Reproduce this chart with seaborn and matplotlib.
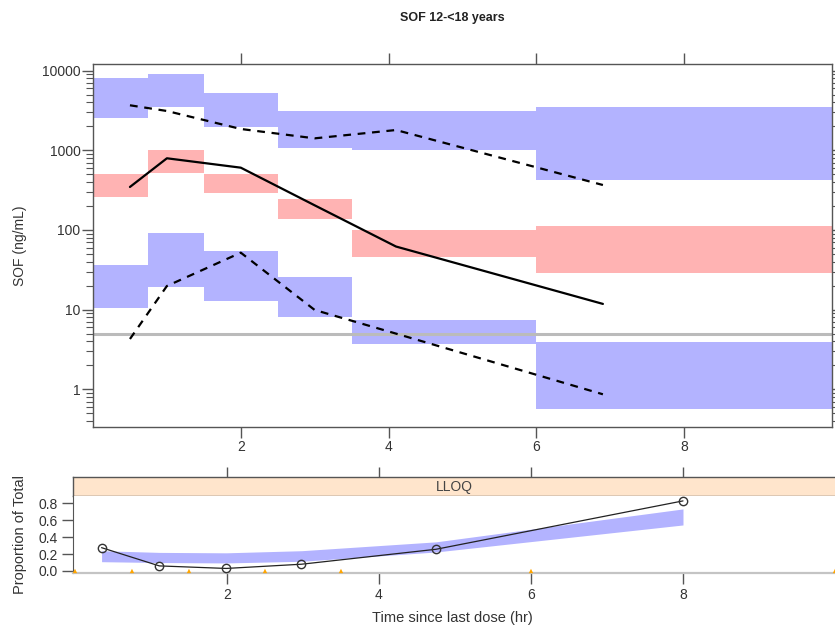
import numpy as np
import pandas as pd
import matplotlib
matplotlib.use("Agg")
import matplotlib.pyplot as plt
import seaborn as sns
from matplotlib.ticker import LogLocator, NullFormatter, FixedLocator, FixedFormatter

# ---------------- data ----------------
bin_edges = [0, 0.75, 1.5, 2.5, 3.5, 6, 10]

# simulated prediction intervals per time bin (ng/mL)
upper_hi = [8030, 9010, 5200, 3150, 3150, 3470]
upper_lo = [2570, 3530, 1945, 1080, 1010, 425]
mid_hi = [500, 1010, 500, 245, 100, 113]
mid_lo = [262, 524, 294, 136, 45.4, 29.1]
lower_hi = [36.3, 90.8, 55, 25.5, 7.41, 3.96]
lower_lo = [10.5, 19.4, 12.9, 8.0, 3.67, 0.567]

# observed percentiles
obs_time = [0.5, 1.0, 2.0, 3.0, 4.1, 6.9]
obs_median = [347, 795, 606, 204, 62, 11.8]
obs_p95 = [3680, 3120, 1855, 1415, 1800, 367]
obs_p05 = [4.28, 19.8, 51.9, 9.9, 5.0, 0.865]
lloq_value = 5

# proportion below LLOQ
blq_time = [0.35, 1.11, 1.99, 2.98, 4.75, 8.0]
blq_obs = [0.276, 0.06, 0.03, 0.08, 0.257, 0.83]
blq_lo = [0.11, 0.10, 0.095, 0.115, 0.225, 0.545]
blq_hi = [0.24, 0.22, 0.215, 0.24, 0.345, 0.735]

x_ticks = [2, 4, 6, 8]
y_ticks_top = [1, 10, 100, 1000, 10000]
y_tick_labels_top = ["1", "10", "100", "1000", "10000"]
y_ticks_bot = [0.0, 0.2, 0.4, 0.6, 0.8]
y_tick_labels_bot = ["0.0", "0.2", "0.4", "0.6", "0.8"]

title = "SOF 12-<18 years"
ylabel_top = "SOF (ng/mL)"
ylabel_bot = "Proportion of Total"
xlabel = "Time since last dose (hr)"
strip_label = "LLOQ"

# ---------------- style ----------------
sns.set_style("ticks")
plt.rcParams["font.family"] = ["Liberation Sans", "DejaVu Sans"]
BLUE = "#B3B3FF"
RED = "#FFB3B3"
PEACH = "#FFE5CC"
SPINE = "#555555"
TXT = "#333333"
TICKFS = 10

W, H = 835, 627
fig = plt.figure(figsize=(W / 100, H / 100), dpi=100)

def frac(l, t, r, b):
    return [l / W, 1 - b / H, (r - l) / W, (b - t) / H]

# ---------------- top panel ----------------
ax = fig.add_axes(frac(93, 64, 832, 427))
ax.set_yscale("log")

def step_vals(v):
    return list(v) + [v[-1]]

for lo, hi, col in [(upper_lo, upper_hi, BLUE), (mid_lo, mid_hi, RED), (lower_lo, lower_hi, BLUE)]:
    ax.fill_between(bin_edges, step_vals(lo), step_vals(hi), step="post",
                    color=col, linewidth=0, zorder=1)

ax.axhline(lloq_value, color="#BBBBBB", lw=2.2, zorder=2)

obs_df = pd.DataFrame({
    "time": obs_time * 3,
    "conc": obs_median + obs_p95 + obs_p05,
    "stat": ["median"] * 6 + ["p95"] * 6 + ["p05"] * 6,
})
sns.lineplot(data=obs_df, x="time", y="conc", style="stat", units="stat",
             estimator=None, color="black", linewidth=1.6,
             dashes={"median": "", "p95": (3.5, 3), "p05": (3.5, 3)},
             legend=False, ax=ax, zorder=3)

ax.set_xlim(0, 10)
ax.set_ylim(0.336, 12140)
ax.set_xlabel("")
ax.set_ylabel(ylabel_top, fontsize=10, color=TXT)
ax.yaxis.set_major_locator(FixedLocator(y_ticks_top))
ax.yaxis.set_major_formatter(FixedFormatter(y_tick_labels_top))
ax.yaxis.set_minor_locator(LogLocator(base=10, subs=np.arange(2, 10)))
ax.yaxis.set_minor_formatter(NullFormatter())
ax.set_xticks(x_ticks)
ax.set_xticklabels([str(t) for t in x_ticks])
ax.tick_params(axis="both", which="major", direction="out", length=8, width=1,
               color=SPINE, labelsize=TICKFS, labelcolor=TXT, pad=1,
               top=True, right=True, labeltop=False, labelright=False)
ax.tick_params(axis="y", which="minor", direction="out", length=5, width=0.8,
               color=SPINE, right=True)
ax.tick_params(axis="x", which="major", pad=1.5)
for s in ax.spines.values():
    s.set_color(SPINE)
    s.set_linewidth(1)
fig.text(452 / W, 1 - 18 / H, title, ha="center", va="center",
         fontsize=9, fontweight="bold", color="#222222")

# ---------------- bottom strip ----------------
sax = fig.add_axes(frac(73, 477, 835, 496))
sax.set_facecolor(PEACH)
sax.set_xlim(-0.026, 10)
sax.set_ylim(0, 1)
sax.set_xticks(x_ticks)
sax.set_xticklabels([])
sax.set_yticks([])
sax.tick_params(axis="x", which="major", direction="out", length=7, width=1,
                color=SPINE, top=True, bottom=False, labeltop=False, labelbottom=False)
for k, s in sax.spines.items():
    s.set_color(SPINE)
    s.set_linewidth(1)
sax.spines["right"].set_visible(False)
sax.text(0.5, 0.45, strip_label, transform=sax.transAxes, ha="center", va="center",
         fontsize=10, color="#444444")

# ---------------- bottom panel ----------------
bx = fig.add_axes(frac(73, 496, 835, 573))
bx.fill_between(blq_time, blq_lo, blq_hi, color=BLUE, linewidth=0, zorder=1)
blq_df = pd.DataFrame({"time": blq_time, "prop": blq_obs})
sns.lineplot(data=blq_df, x="time", y="prop", color="#222222", linewidth=0.9,
             marker="o", markersize=6, markerfacecolor="none",
             markeredgecolor="#333333", markeredgewidth=1.0, ax=bx, zorder=3)
edge_df = pd.DataFrame({"edge": bin_edges, "y": [0.0] * len(bin_edges)})
sns.scatterplot(data=edge_df, x="edge", y="y", marker="^", s=10, color="#FFA500",
                edgecolor="none", ax=bx, zorder=4, clip_on=False)
bx.set_xlim(-0.026, 10)
bx.set_ylim(-0.024, 0.888)
bx.set_xticks(x_ticks)
bx.set_xticklabels([str(t) for t in x_ticks])
bx.set_yticks(y_ticks_bot)
bx.set_yticklabels(y_tick_labels_bot)
bx.tick_params(axis="both", which="major", direction="out", length=8, width=1,
               color=SPINE, labelsize=TICKFS, labelcolor=TXT, pad=3)
bx.tick_params(axis="x", pad=2.5)
bx.set_xlabel(xlabel, fontsize=10.5, color=TXT, labelpad=6)
bx.set_ylabel(ylabel_bot, fontsize=10.5, color=TXT)
bx.spines["top"].set_visible(False)
bx.spines["right"].set_visible(False)
bx.spines["left"].set_color(SPINE)
bx.spines["bottom"].set_color("#C4C4C4")
bx.spines["bottom"].set_linewidth(1.6)

# y labels: right edge of rotated text near x=27px
ax.yaxis.set_label_coords(-(93 - 27) / (832 - 93), 0.5)
bx.yaxis.set_label_coords(-(73 - 27) / (835 - 73), 0.5)
bx.xaxis.set_label_coords((452 - 73) / (835 - 73), -(618 - 573) / (573 - 496))
bx.xaxis.label.set_va("center")

fig.savefig("out.png", dpi=100)
